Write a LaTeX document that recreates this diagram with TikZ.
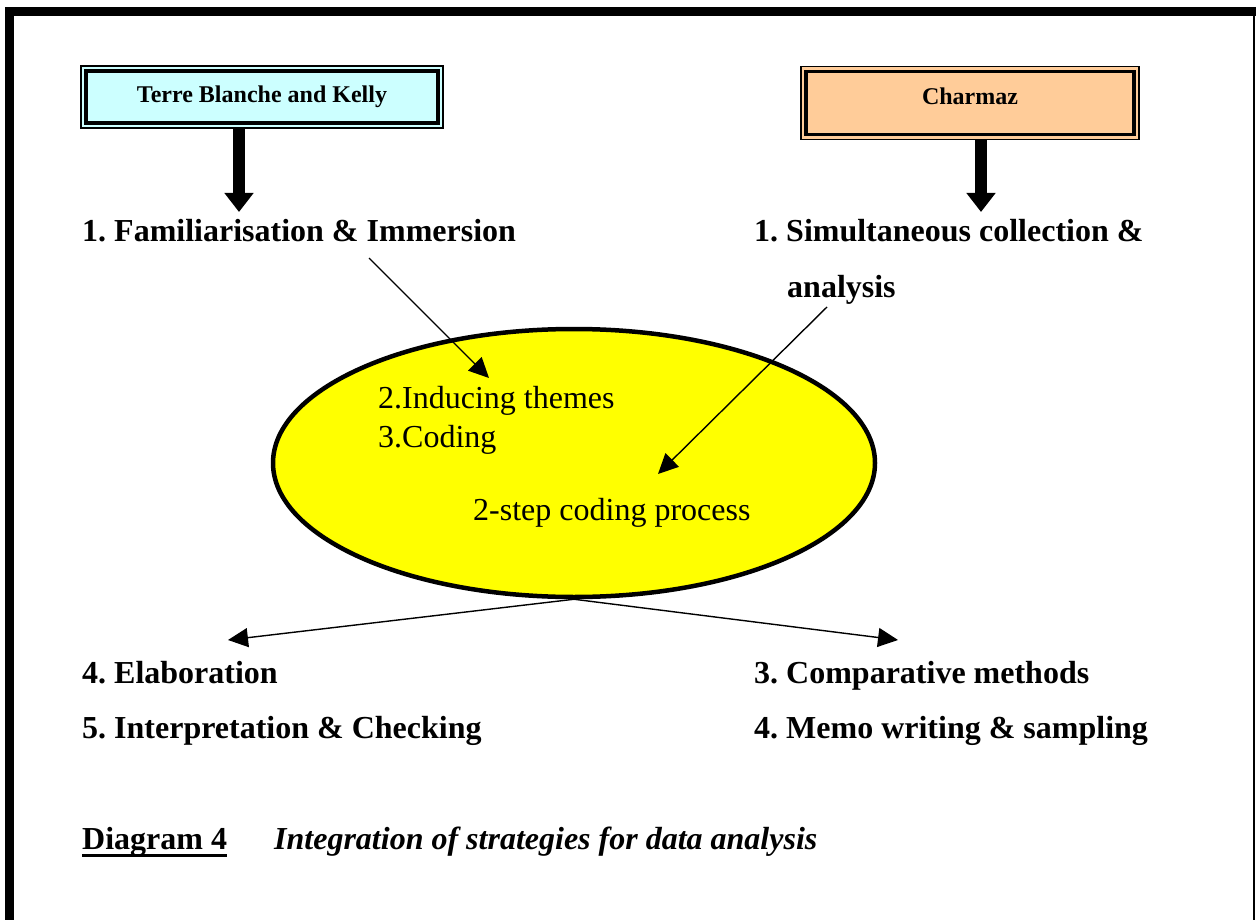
\documentclass[tikz,border=0pt]{standalone}
\usepackage{fontspec}
\setmainfont{Liberation Serif}
\usetikzlibrary{arrows.meta,shapes.geometric}
\definecolor{paleCyan}{HTML}{CCFFFF}
\definecolor{paleOrange}{HTML}{FFCC99}
\definecolor{ovalYellow}{HTML}{FFFF00}
\frenchspacing

\begin{document}
\begin{tikzpicture}
[x=1pt,y={(0pt,-1pt)},
  thinArrow/.style={-{Triangle[length=20pt,width=19pt]},line width=1.4pt},%
  fatArrow/.style={-{Triangle[length=19pt,width=28pt]},line width=12pt},%
  sourceBox/.style={draw,line width=1.6pt,inner sep=0pt,font=\fontsize{24}{28}\selectfont\bfseries},%
  innerRim/.style={line width=3.5pt},%
  stepText/.style={anchor=base west,inner sep=0pt,font=\fontsize{32}{38}\selectfont\bfseries},%
  ovalText/.style={anchor=base west,inner sep=0pt,font=\fontsize{32}{38}\selectfont}]
\useasboundingbox (0,0) rectangle (1256,920);
%% frame
\draw[line width=9pt] (9.5,920) -- (9.5,11.5) -- (1256,11.5);
\draw[line width=2pt] (1254,16) -- (1254,920);
%% source boxes
\node[sourceBox,fill=paleCyan,minimum width=362pt,minimum height=62pt] (terre) at (262,97) {Terre Blanche and Kelly};
\node[sourceBox,fill=paleOrange,minimum width=338pt,minimum height=73pt,text depth=14pt] (charmaz) at (970,103) {Charmaz};
\foreach \boxname in {terre, charmaz}
{
  \draw[innerRim] ([shift={(6pt,-6pt)}]\boxname.north west) rectangle ([shift={(-6pt,6pt)}]\boxname.south east);
}
%% the oval
\node[ellipse,draw,line width=4.5pt,fill=ovalYellow,minimum width=602pt,minimum height=268pt] (oval) at (574,463) {};
%% texts
\foreach \nodename/\x/\y/\txt in {fam/82/242/1. Familiarisation \& Immersion,
  simul/754/242/1. Simultaneous collection \&, analysis/787/297/analysis,
  elab/82/683/4. Elaboration, interp/82/738/5. Interpretation \& Checking,
  compar/754/683/3. Comparative methods, memo/754/738/4. Memo writing \& sampling,
  diag/82/849/Diagram 4}
{
  \node[stepText] (\nodename) at (\x,\y) {\txt};
}
\foreach \nodename/\x/\y/\txt in {inducing/378/408/2.Inducing themes,
  coding/378/447/3.Coding, twostep/473/520/2-step coding process}
{
  \node[ovalText] (\nodename) at (\x,\y) {\txt};
}
\node[stepText,font=\fontsize{32}{38}\selectfont\bfseries\itshape] (caption) at (274,849) {Integration of strategies for data analysis};
\draw[line width=3pt] ([yshift=-6pt]diag.base west) -- ([yshift=-6pt]diag.base east);
%% arrow ends
\coordinate (leftTip) at (239,212);
\coordinate (rightTip) at (981,212);
\coordinate (famTail) at (369,258);
\coordinate (inducingTip) at (489,378);
\coordinate (analysisTail) at (827,307);
\coordinate (twostepTip) at (658,474);
\coordinate (elabTip) at (228,640);
\coordinate (comparTip) at (898,640);
%% fat arrows
\foreach \startnode/\endnode in {terre/leftTip, charmaz/rightTip}
{
  \draw[fatArrow] (\endnode |- \startnode.south) -- (\endnode);
}
%% thin arrows
\path
\foreach \startnode/\endnode in {famTail/inducingTip, analysisTail/twostepTip, oval.south/elabTip, oval.south/comparTip}
{
  (\startnode) edge[thinArrow] (\endnode)
};
\end{tikzpicture}
\end{document}
